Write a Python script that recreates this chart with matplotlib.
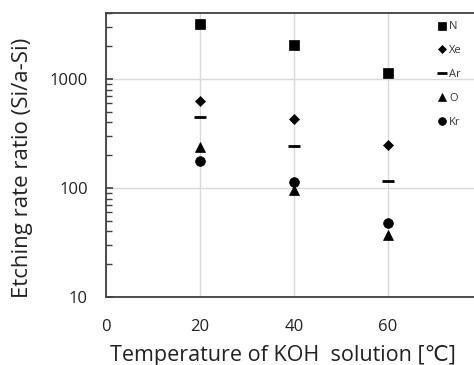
import matplotlib
matplotlib.use("Agg")
import matplotlib.pyplot as plt
from matplotlib.ticker import LogLocator, FixedLocator, NullFormatter

plt.rcParams['font.family'] = ['Open Sans', 'DejaVu Sans']

temps = [20, 40, 60]
series_names = ["N", "Xe", "Ar", "O", "Kr"]
N_vals = [3200, 2050, 1140]
Xe_vals = [630, 427, 248]
Ar_vals = [445, 243, 117]
O_vals = [236, 96, 37]
Kr_vals = [178, 113, 48]
x_ticks = [0, 20, 40, 60]
y_ticks = [10, 100, 1000]
y_tick_labels = ["10", "100", "1000"]

fig = plt.figure(figsize=(4.74, 3.65), dpi=100)
ax = fig.add_axes([106/474, 1-297/365, 368/474, 284/365])

styles = [
    (N_vals, 's', 6.5, 0),
    (Xe_vals, 'D', 4.8, 0),
    (Ar_vals, '_', 9, 2),
    (O_vals, '^', 6.5, 0),
    (Kr_vals, 'o', 7, 0),
]
for name, (vals, m, ms, mew) in zip(series_names, styles):
    ax.plot(temps, vals, linestyle='none', marker=m, markersize=ms,
            color='black', markeredgewidth=mew if mew else 0.5,
            label=name, zorder=3)

ax.set_yscale('log')
ax.set_xlim(0, 368/4.7)
ax.set_ylim(10, 10**(1+284/109))
ax.xaxis.set_major_locator(FixedLocator(x_ticks))
ax.yaxis.set_major_locator(FixedLocator(y_ticks))
ax.set_yticklabels(y_tick_labels)
ax.yaxis.set_minor_locator(LogLocator(base=10, subs=range(2, 10)))
ax.yaxis.set_minor_formatter(NullFormatter())

ax.grid(True, which='major', color='#d9d9d9', linewidth=1.0, zorder=0)
ax.set_axisbelow(True)

for s in ['left', 'bottom', 'top']:
    ax.spines[s].set_color('#404040')
    ax.spines[s].set_linewidth(1.3)
ax.spines['right'].set_visible(False)

ax.tick_params(axis='y', which='major', direction='in', length=5, width=1.2,
               color='#404040', labelsize=12, pad=13, labelcolor='#222222')
ax.tick_params(axis='y', which='minor', direction='in', length=4, width=1.0,
               color='#404040')
ax.tick_params(axis='x', which='major', length=0, labelsize=12, pad=16,
               labelcolor='#222222')

ax.set_xlabel("Temperature of KOH  solution [℃]", fontsize=15.5, color='#222222')
ax.set_ylabel("Etching rate ratio (Si/a-Si)", fontsize=16, color='#222222')
ax.xaxis.set_label_coords(0.481, -(355 - 297) / 284, transform=ax.transAxes)
ax.xaxis.label.set_va('center')
ax.yaxis.set_label_coords((22.5 - 106) / 368, (297 - 168) / 284, transform=ax.transAxes)
ax.yaxis.label.set_va('center')

leg = ax.legend(loc='upper right', frameon=False, fontsize=8,
                handlelength=0.6, handletextpad=0.3, labelspacing=1.15,
                borderaxespad=0, markerscale=0.8,
                bbox_to_anchor=(1 - 8/368, 1 - 4/284))
for t in leg.get_texts():
    t.set_color('#333333')

fig.savefig("out.png", dpi=100)
